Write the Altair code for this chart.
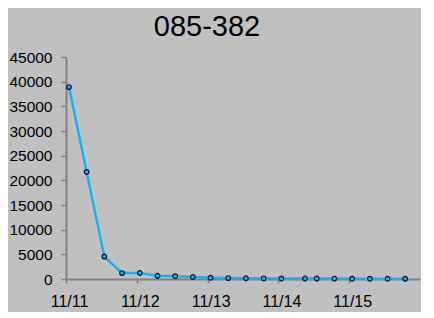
import altair as alt
import pandas as pd

times = [
    "2010-11-11T01:00", "2010-11-11T07:00", "2010-11-11T13:00", "2010-11-11T19:00",
    "2010-11-12T01:00", "2010-11-12T07:00", "2010-11-12T13:00", "2010-11-12T19:00",
    "2010-11-13T01:00", "2010-11-13T07:00", "2010-11-13T13:00", "2010-11-13T19:00",
    "2010-11-14T01:00", "2010-11-14T09:00", "2010-11-14T13:00", "2010-11-14T19:00",
    "2010-11-15T01:00", "2010-11-15T07:00", "2010-11-15T13:00", "2010-11-15T19:00",
]
values = [
    38900, 21700, 4550, 1200, 1220, 650, 580, 400,
    260, 180, 150, 130, 110, 100, 90, 80,
    70, 60, 50, 40,
]
y_ticks = [0, 5000, 10000, 15000, 20000, 25000, 30000, 35000, 40000, 45000]
x_tick_days = [11, 12, 13, 14, 15]
title_text = "085-382"

df = pd.DataFrame({"time": times, "value": values})

FONT = "Liberation Sans"
GRAY = "#808080"

x_enc = alt.X(
    "time:T",
    scale=alt.Scale(domain=[alt.DateTime(year=2010, month=11, date=11),
                            alt.DateTime(year=2010, month=11, date=16)]),
    axis=alt.Axis(
        title=None,
        values=[alt.DateTime(year=2010, month=11, date=d) for d in x_tick_days],
        format="%m/%d",
        labelFont=FONT, labelFontSize=16, labelColor="black",
        labelFlush=False, labelOverlap=False,
        domainColor=GRAY, domainWidth=2, tickColor=GRAY, tickWidth=1.5,
        tickSize=4, labelPadding=10, labelOffset=3, grid=False,
    ),
)
y_enc = alt.Y(
    "value:Q",
    scale=alt.Scale(domain=[0, 45000], nice=False),
    axis=alt.Axis(
        title=None, values=y_ticks, format="d",
        labelFont=FONT, labelFontSize=15.5, labelColor="black",
        labelOverlap=False, labelFlush=False,
        domainColor=GRAY, domainWidth=2, tickColor=GRAY, tickWidth=1.5,
        tickSize=5, labelPadding=9, grid=False,
    ),
)

line = alt.Chart(df).mark_line(color="#12B4EE", strokeWidth=2.5).encode(x=x_enc, y=y_enc)
pts = alt.Chart(df).mark_point(
    shape="circle", filled=True, fill="#12B4EE", stroke="#111133",
    strokeWidth=1.2, size=22, opacity=1,
).encode(x=x_enc, y=y_enc)

chart = (line + pts).properties(
    width=354,
    height=222,
    background="#C0C0C0",
    autosize=alt.AutoSizeParams(type="none"),
    padding={"left": 58, "top": 49, "right": 1, "bottom": 33},
    title=alt.TitleParams(
        title_text, font=FONT, fontSize=29, fontWeight="normal", color="black",
        anchor="middle", dx=-36, offset=8,
    ),
).configure_view(stroke=None)

chart.save("out.html", embed_options={"renderer": "svg", "actions": False})
